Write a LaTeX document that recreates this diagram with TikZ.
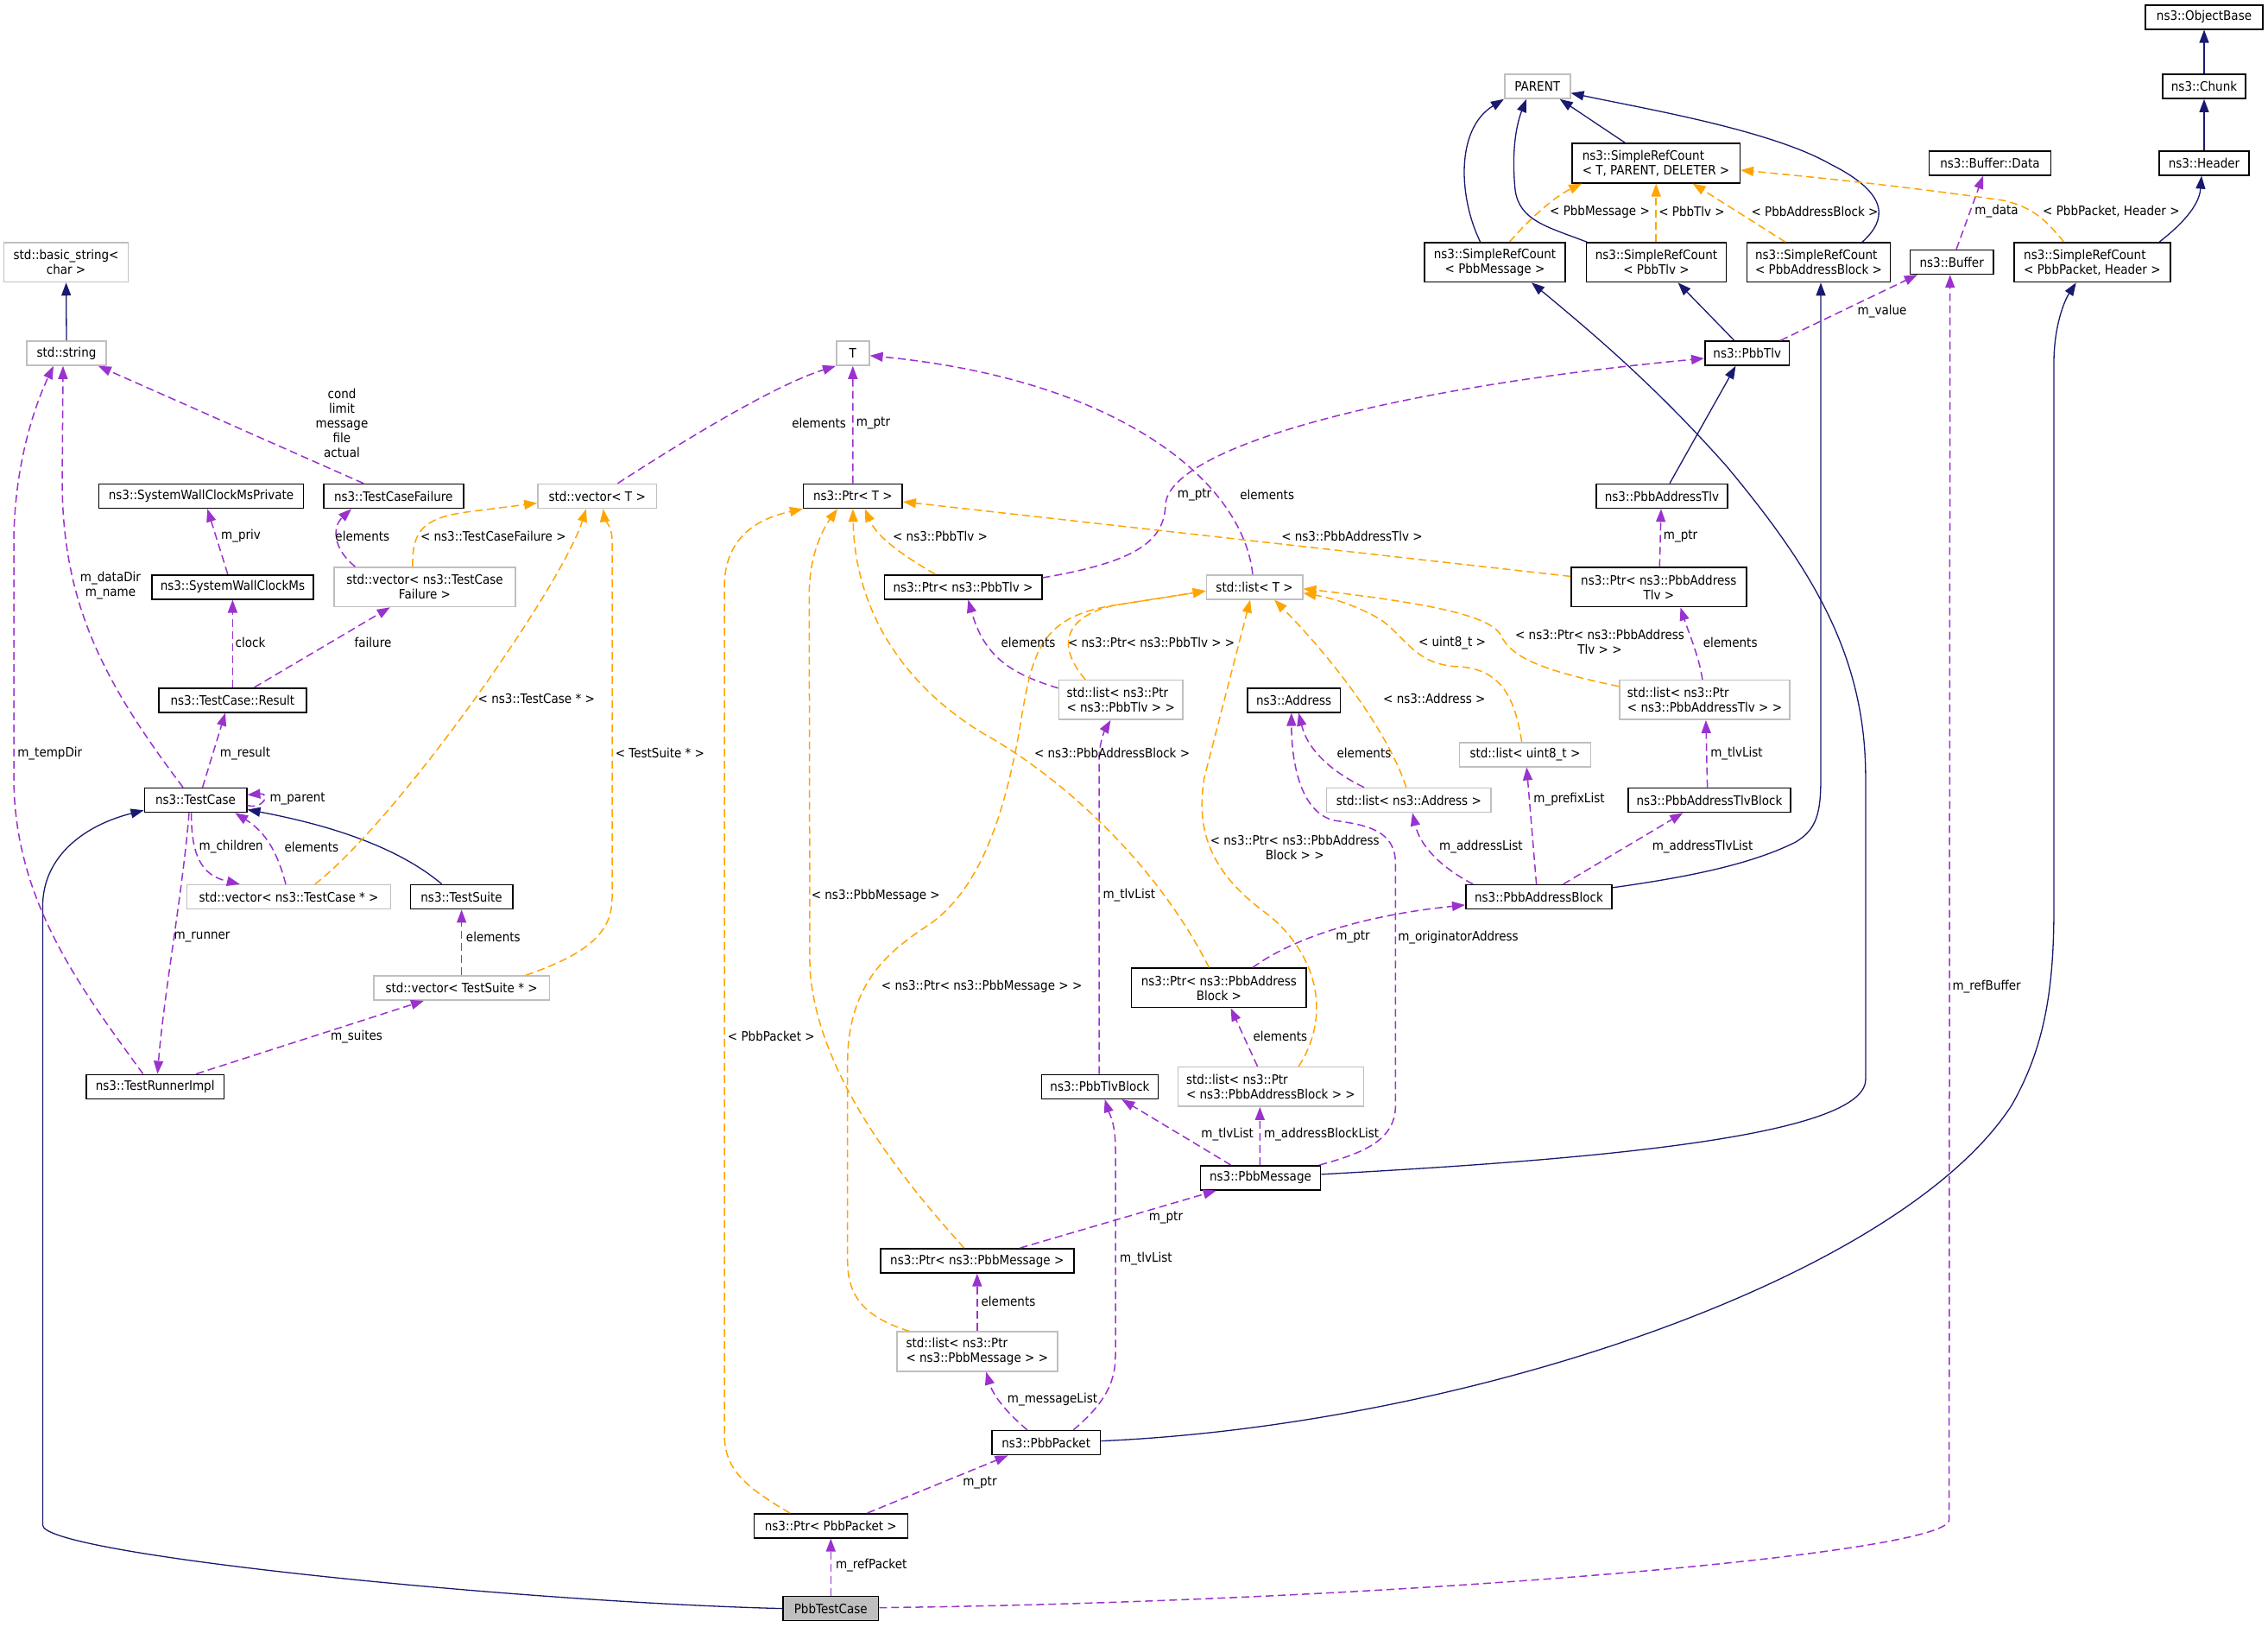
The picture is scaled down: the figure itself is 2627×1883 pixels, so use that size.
\documentclass[tikz,border=0pt]{standalone}
\usepackage{fontspec}
\setmainfont{DejaVu Sans}[FakeStretch=0.9]
\usetikzlibrary{arrows.meta,calc}
\definecolor{navy}{HTML}{191970}
\definecolor{purp}{HTML}{9A32CD}
\definecolor{orng}{HTML}{FFA500}
\definecolor{gbd}{HTML}{BFBFBF}
\begin{document}
\begin{tikzpicture}[x=1pt,y=-1pt,
  every node/.style={font=\fontsize{15}{17}\selectfont},
  cls/.style={draw=black,line width=1.6pt,fill=white,inner sep=0pt,align=center,minimum height=28pt},
  ext/.style={cls,draw=gbd},
  twoline/.style={minimum height=45.5pt},
  lbl/.style={inner sep=0pt,align=center},
  edgeInh/.style={draw=navy,line width=1.3pt,-{Triangle[length=15pt,width=11pt]}},
  edgeUse/.style={draw=purp,line width=1.5pt,dash pattern=on 9pt off 5pt,-{Triangle[length=15pt,width=11pt]}},
  edgeTpl/.style={draw=orng,line width=1.5pt,dash pattern=on 9pt off 5pt,-{Triangle[length=15pt,width=11pt]}},
]
\fill[white] (0,0) rectangle (2627,1883);
\useasboundingbox (0,0) rectangle (2627,1883);

% ---------- nodes ----------
\node[ext,twoline,minimum width=144pt] (bstr) at (76.6,303.7) {std::basic\_string<\\char >};
\node[ext,minimum width=92pt] (str) at (77,409) {std::string};
\node[cls,minimum width=237pt] (swcp) at (233,574.5) {ns3::SystemWallClockMsPrivate};
\node[cls,minimum width=162pt] (tcf) at (455.7,574.5) {ns3::TestCaseFailure};
\node[ext,minimum width=137.5pt] (vecT) at (691.7,574.5) {std::vector< T >};
\node[ext,minimum width=38pt] (T) at (987.8,409) {T};
\node[cls,minimum width=114.5pt] (ptrT) at (987.9,574.5) {ns3::Ptr< T >};
\node[cls,minimum width=136pt] (objbase) at (2553,19.7) {ns3::ObjectBase};
\node[cls,minimum width=96pt] (chunk) at (2553,100) {ns3::Chunk};
\node[cls,minimum width=103.6pt] (header) at (2553,188.8) {ns3::Header};
\node[ext,minimum width=76pt] (parent) at (1780.7,100) {PARENT};
\node[cls,twoline,minimum width=194.6pt,align=left] (srcT) at (1918,189) {ns3::SimpleRefCount\\< T, PARENT, DELETER >};
\node[cls,minimum width=141pt] (bufdata) at (2305,188.8) {ns3::Buffer::Data};
\node[cls,twoline,minimum width=163pt] (srcMsg) at (1731.5,303.7) {ns3::SimpleRefCount\\< PbbMessage >};
\node[cls,twoline,minimum width=162pt] (srcTlv) at (1918.5,303.8) {ns3::SimpleRefCount\\< PbbTlv >};
\node[cls,twoline,minimum width=166pt,align=left] (srcAB) at (2106.5,303.8) {ns3::SimpleRefCount\\< PbbAddressBlock >};
\node[cls,minimum width=96.7pt] (buffer) at (2260.7,303.4) {ns3::Buffer};
\node[cls,twoline,minimum width=181pt,align=left] (srcPkt) at (2423.4,303.8) {ns3::SimpleRefCount\\< PbbPacket, Header >};
\node[cls,minimum width=97.8pt] (pbbtlv) at (2023.7,409) {ns3::PbbTlv};
\node[cls,minimum width=151.6pt] (addrtlv) at (1925,574.5) {ns3::PbbAddressTlv};
\node[cls,minimum width=187.4pt] (swc) at (269.4,679.7) {ns3::SystemWallClockMs};
\node[ext,twoline,minimum width=210.5pt] (vecTCF) at (492,679.7) {std::vector< ns3::TestCase\\Failure >};
\node[cls,minimum width=170.6pt] (result) at (269.4,810.7) {ns3::TestCase::Result};
\node[cls,minimum width=118.4pt] (testcase) at (226.5,926.5) {ns3::TestCase};
\node[ext,minimum width=235.8pt] (vecTC) at (334.5,1038.6) {std::vector< ns3::TestCase * >};
\node[cls,minimum width=118.4pt] (suite) at (534.6,1038.6) {ns3::TestSuite};
\node[ext,minimum width=203.7pt] (vecTS) at (534.6,1144) {std::vector< TestSuite * >};
\node[cls,minimum width=159.3pt] (runner) at (179.7,1258.3) {ns3::TestRunnerImpl};
\node[cls,minimum width=182.4pt] (ptrTlv) at (1115.5,679.7) {ns3::Ptr< ns3::PbbTlv >};
\node[ext,minimum width=111.2pt] (listT) at (1453.1,679.7) {std::list< T >};
\node[cls,twoline,minimum width=203pt] (ptrAddrTlv) at (1921.3,679.9) {ns3::Ptr< ns3::PbbAddress\\Tlv >};
\node[ext,twoline,minimum width=143.6pt,align=left] (listPtrTlv) at (1298.2,810.4) {std::list< ns3::Ptr\\< ns3::PbbTlv > >};
\node[cls,minimum width=107.8pt] (address) at (1498.6,810.7) {ns3::Address};
\node[ext,twoline,minimum width=197.4pt,align=left] (listPtrAddrTlv) at (1974.5,810.4) {std::list< ns3::Ptr\\< ns3::PbbAddressTlv > >};
\node[ext,minimum width=151.9pt] (listU8) at (1766.4,873.7) {std::list< uint8\_t >};
\node[ext,minimum width=190.3pt] (listAddr) at (1631.8,926.5) {std::list< ns3::Address >};
\node[cls,minimum width=187.7pt] (addrTlvBlock) at (1979.9,926.5) {ns3::PbbAddressTlvBlock};
\node[cls,minimum width=169.5pt] (addrBlock) at (1782.5,1038.6) {ns3::PbbAddressBlock};
\node[cls,twoline,minimum width=202.6pt] (ptrAB) at (1411.9,1143.9) {ns3::Ptr< ns3::PbbAddress\\Block >};
\node[cls,minimum width=134.7pt] (tlvBlock) at (1274,1258.3) {ns3::PbbTlvBlock};
\node[ext,twoline,minimum width=215pt,align=left] (listPtrAB) at (1471.9,1258.3) {std::list< ns3::Ptr\\< ns3::PbbAddressBlock > >};
\node[cls,minimum width=139.2pt] (msg) at (1460,1363.8) {ns3::PbbMessage};
\node[cls,minimum width=224pt] (ptrMsg) at (1131.8,1459.9) {ns3::Ptr< ns3::PbbMessage >};
\node[ext,twoline,minimum width=185.8pt,align=left] (listPtrMsg) at (1131.8,1565) {std::list< ns3::Ptr\\< ns3::PbbMessage > >};
\node[cls,minimum width=125.7pt] (packet) at (1211.7,1670.6) {ns3::PbbPacket};
\node[cls,minimum width=178pt] (ptrPkt) at (962.3,1766.8) {ns3::Ptr< PbbPacket >};
\node[cls,fill=gbd,minimum width=110.6pt] (testc) at (962.3,1862.6) {PbbTestCase};

% ---------- inheritance (navy) ----------
\draw[edgeInh] (str.north) -- (bstr.south);
\draw[edgeInh] (chunk.north) -- (objbase.south);
\draw[edgeInh] (header.north) -- (chunk.south);
\draw[edgeInh] ([xshift=-35.5pt]srcT.north) -- ([xshift=26pt]parent.south);
\draw[edgeInh] ([xshift=1.5pt]srcTlv.north west) .. controls (1790,262) and (1760,255) .. (1755,220) .. controls (1750,170) and (1758,140) .. ([xshift=-12.7pt]parent.south);
\draw[edgeInh] ([xshift=50.5pt]srcAB.north) .. controls (2185,255) and (2190,225) .. (2120,190) .. controls (2050,150) and (1900,125) .. ([yshift=-7.7pt]parent.east);
\draw[edgeInh] ([xshift=-16.9pt]srcMsg.north) .. controls (1690,230) and (1685,150) .. (parent.south west);
\draw[edgeInh] ([xshift=77.6pt]srcPkt.north) .. controls (2540,250) and (2548,230) .. ([xshift=-3pt]header.south);
\draw[edgeInh] ([xshift=-15pt]pbbtlv.north) -- ([xshift=25.1pt]srcTlv.south);
\draw[edgeInh] ([xshift=9pt]addrtlv.north) -- ([xshift=-13.3pt]pbbtlv.south);
\draw[edgeInh] ([yshift=4pt]msg.east) .. controls (1800,1345) and (2160.9,1320) .. (2160.9,1250) -- (2160.9,900) .. controls (2160.9,760) and (2100,660) .. (2000,540) .. controls (1920,450) and (1850,390) .. ([xshift=42.5pt]srcMsg.south);
\draw[edgeInh] ([yshift=2pt]packet.east) .. controls (1700,1650) and (2200,1480) .. (2330,1280) .. controls (2370,1210) and (2379,1140) .. (2379,1050) -- (2379,420) .. controls (2379,380) and (2390,350) .. ([xshift=-18.7pt]srcPkt.south);
\draw[edgeInh] ([yshift=10.8pt]addrBlock.east) .. controls (1960,1015) and (2030,1000) .. (2080,975) .. controls (2105,960) and (2109,940) .. (2109,900) -- ([xshift=2.5pt]srcAB.south);
\draw[edgeInh] (testc.west) .. controls (600,1855) and (49.4,1800) .. (49.4,1766) -- (49.4,1050) .. controls (49.4,990) and (100,955) .. ([yshift=3pt]testcase.south west);
\draw[edgeInh] ([xshift=-22.8pt]suite.north) .. controls (460,980) and (380,955) .. ([yshift=-11pt]testcase.east);

% ---------- usage (purple dashed) ----------
\draw[edgeUse] ([xshift=-34.7pt]tcf.north) -- ([xshift=-10pt]str.south east);
\draw[edgeUse] ([xshift=-14.5pt]testcase.north) .. controls (120,790) and (73,700) .. (72,560) -- ([xshift=-4pt]str.south);
\draw[edgeUse] ([xshift=-14pt]runner.north) .. controls (90,1140) and (16,1040) .. (16,900) -- (16,630) .. controls (16,540) and (40,470) .. ([xshift=-15pt]str.south);
\draw[edgeUse] ([xshift=-5.6pt]swc.north) -- ([xshift=7.2pt]swcp.south);
\draw[edgeUse] ([xshift=-80.6pt]vecTCF.north) .. controls (385,635) and (385,610) .. ([xshift=-48.7pt]tcf.south);
\draw[edgeUse] ([xshift=23.8pt]vecT.north) .. controls (800,505) and (900,445) .. (T.south west);
\draw[edgeUse] (result.north) -- (swc.south);
\draw[edgeUse] ([xshift=25.2pt]result.north) -- ([xshift=-40.2pt]vecTCF.south);
\draw[edgeUse] ([xshift=8.1pt]testcase.north) -- ([xshift=-8.4pt]result.south);
\draw[edgeUse] ([yshift=-6pt]testcase.east) .. controls (305,938) and (314,918) .. ([yshift=6pt]testcase.east);
\draw[edgeUse] ([xshift=-4.8pt]testcase.south) .. controls (221,1000) and (240,1015) .. ([xshift=-56.7pt]vecTC.north);
\draw[edgeUse] ([xshift=-3.5pt]vecTC.north) .. controls (322,990) and (310,965) .. ([xshift=45.7pt]testcase.south);
\draw[edgeUse] ([xshift=-7.5pt]testcase.south) .. controls (212,1030) and (190,1150) .. ([xshift=2.7pt]runner.north);
\draw[edgeUse] (vecTS.north) -- (suite.south);
\draw[edgeUse] ([xshift=47.6pt]runner.north) -- ([xshift=-43.6pt]vecTS.south);
\draw[edgeUse] (ptrT.north) -- (T.south);
\draw[edgeUse] ([xshift=-2.2pt]listT.north) .. controls (1440,560) and (1300,440) .. ([yshift=-2.8pt]T.east);
\draw[edgeUse] ([yshift=10.7pt]ptrTlv.east) .. controls (1320,650) and (1348,625) .. (1350,585) .. controls (1352,520) and (1600,450) .. ([yshift=-6pt]pbbtlv.west);
\draw[edgeUse] ([yshift=13.6pt]listPtrTlv.west) .. controls (1170,780) and (1140,760) .. ([xshift=5.9pt]ptrTlv.south);
\draw[edgeUse] ([xshift=-51.8pt]listAddr.north) .. controls (1545,895) and (1515,870) .. ([xshift=5.6pt]address.south);
\draw[edgeUse] ([xshift=-2pt]msg.north east) .. controls (1580,1335) and (1616.4,1320) .. (1616.4,1280) -- (1616.4,1000) .. controls (1616.4,960) and (1580,955) .. (1545,950) .. controls (1505,940) and (1496,880) .. ([xshift=-2.8pt]address.south);
\draw[edgeUse] ([xshift=-1pt]tlvBlock.north) -- (1273,880) .. controls (1273,860) and (1280,845) .. ([xshift=-11.8pt]listPtrTlv.south);
\draw[edgeUse] ([xshift=-15.4pt]listPtrAB.north) -- ([xshift=13.7pt]ptrAB.south);
\draw[edgeUse] ([xshift=39pt]ptrAB.north) .. controls (1500,1085) and (1580,1060) .. ([yshift=-9.3pt]addrBlock.west);
\draw[edgeUse] ([xshift=-76.3pt]addrBlock.north) .. controls (1670,1005) and (1645,980) .. ([xshift=4.2pt]listAddr.south);
\draw[edgeUse] ([xshift=-2.9pt]addrBlock.north) -- ([xshift=1.9pt]listU8.south);
\draw[edgeUse] ([xshift=28.2pt]addrBlock.north) -- ([xshift=-30.6pt]addrTlvBlock.south);
\draw[edgeUse] ([xshift=-2.3pt]addrTlvBlock.north) -- ([xshift=1.4pt]listPtrAddrTlv.south);
\draw[edgeUse] ([xshift=-2.6pt]listPtrAddrTlv.north) .. controls (1968,760) and (1955,730) .. ([xshift=25.2pt]ptrAddrTlv.south);
\draw[edgeUse] ([xshift=1pt]ptrAddrTlv.north) -- ([xshift=-1pt]addrtlv.south);
\draw[edgeUse] ([xshift=38.7pt]pbbtlv.north) -- ([xshift=-39.9pt]buffer.south);
\draw[edgeUse] ([xshift=5.3pt]buffer.north) -- ([xshift=-8pt]bufdata.south);
\draw[edgeUse] ([yshift=1pt]testc.east) .. controls (1600,1855) and (2257.6,1800) .. (2257.6,1760) -- ([xshift=-2pt]buffer.south);
\draw[edgeUse] ([xshift=31.5pt]packet.north) .. controls (1280,1625) and (1292,1600) .. (1292,1570) -- (1292,1330) .. controls (1292,1300) and (1285,1290) .. ([xshift=5.7pt]tlvBlock.south);
\draw[edgeUse] ([xshift=-34.4pt]msg.north) -- ([xshift=25.3pt]tlvBlock.south);
\draw[edgeUse] ([xshift=-0.7pt]msg.north) -- ([xshift=-12.6pt]listPtrAB.south);
\draw[edgeUse] ([xshift=49.7pt]ptrMsg.north) -- ([xshift=-51.2pt]msg.south);
\draw[edgeUse] (listPtrMsg.north) -- (ptrMsg.south);
\draw[edgeUse] ([xshift=-21.8pt]packet.north) .. controls (1165,1635) and (1150,1615) .. ([xshift=10.4pt]listPtrMsg.south);
\draw[edgeUse] ([xshift=42.4pt]ptrPkt.north) -- ([xshift=-44.2pt]packet.south);
\draw[edgeUse] (testc.north) -- (ptrPkt.south);

% ---------- template instances (orange dashed) ----------
\draw[edgeTpl] ([xshift=-14pt]vecTCF.north) .. controls (477,615) and (490,600) .. (540,593) -- ([yshift=-8pt]vecT.west);
\draw[edgeTpl] ([xshift=30.3pt]vecTC.north) .. controls (460,950) and (650,680) .. ([xshift=-12.7pt]vecT.south);
\draw[edgeTpl] ([xshift=74.4pt]vecTS.north) .. controls (680,1105) and (709,1080) .. (709,1040) -- (709,625) .. controls (709,610) and (700,600) .. ([xshift=7pt]vecT.south);
\draw[edgeTpl] ([xshift=-32.2pt]ptrTlv.north) .. controls (1040,640) and (1015,620) .. ([xshift=13.8pt]ptrT.south);
\draw[edgeTpl] ([yshift=12.5pt]ptrAddrTlv.west) -- ([yshift=-6.5pt]ptrT.east);
\draw[edgeTpl] ([xshift=-47.4pt]ptrPkt.north) .. controls (860,1720) and (839,1700) .. (839,1660) -- (839,680) .. controls (839,620) and (880,600) .. (ptrT.south west);
\draw[edgeTpl] ([xshift=-15.1pt]ptrMsg.north) .. controls (1040,1360) and (945,1240) .. (938,1120) -- (937.3,690) .. controls (937,640) and (955,610) .. ([xshift=-17.9pt]ptrT.south);
\draw[edgeTpl] ([xshift=-11.5pt]ptrAB.north) .. controls (1340,1000) and (1230,900) .. (1140,850) .. controls (1040,790) and (990,700) .. (ptrT.south);
\draw[edgeTpl] ([xshift=-41pt]listPtrTlv.north) .. controls (1225,750) and (1230,715) .. (1290,701) -- ([yshift=-4.6pt]listT.west);
\draw[edgeTpl] ([xshift=-78.5pt]listPtrMsg.north) .. controls (1000,1525) and (981.7,1500) .. (981.7,1460) -- (981.7,1230) .. controls (982,1130) and (1040,1095) .. (1080,1068) .. controls (1130,1030) and (1160,960) .. (1180,850) .. controls (1195,760) and (1200,715) .. (1290,701) -- ([yshift=-4.6pt]listT.west);
\draw[edgeTpl] ([xshift=32.3pt]listPtrAB.north) .. controls (1540,1180) and (1530,1110) .. (1470,1060) .. controls (1400,1010) and (1385,960) .. (1395,900) -- ([xshift=-5pt]listT.south);
\draw[edgeTpl] ([xshift=-3.8pt]listU8.north) .. controls (1755,810) and (1740,775) .. (1690,772) .. controls (1640,770) and (1630,740) .. (1600,718) .. controls (1570,700) and (1540,692) .. ([yshift=-7pt]listT.east);
\draw[edgeTpl] ([yshift=15.6pt]listPtrAddrTlv.west) .. controls (1780,775) and (1750,760) .. (1738,735) .. controls (1725,712) and (1650,698) .. ([yshift=-2pt]listT.east);
\draw[edgeTpl] ([xshift=-3pt]listAddr.north) .. controls (1612,860) and (1560,780) .. ([xshift=23pt]listT.south);
\draw[edgeTpl] ([xshift=17pt]srcMsg.north) .. controls (1770,255) and (1800,228) .. ([xshift=12.3pt]srcT.south west);
\draw[edgeTpl] ([xshift=-0.3pt]srcTlv.north) -- ([xshift=0.2pt]srcT.south);
\draw[edgeTpl] ([xshift=-38.5pt]srcAB.north) -- ([xshift=42.6pt]srcT.south);
\draw[edgeTpl] ([xshift=-32.9pt]srcPkt.north) .. controls (2370,255) and (2355,240) .. (2320,232) .. controls (2200,215) and (2100,205) .. ([yshift=-8pt]srcT.east);

% ---------- edge labels ----------
\node[lbl] (l01) at (396,490) {cond\\limit\\message\\file\\actual};
\node[lbl] (l02) at (128,678.5) {m\_dataDir\\m\_name};
\node[lbl] (l03) at (279,620.7) {m\_priv};
\node[lbl] (l04) at (419.8,620.7) {elements};
\node[lbl] (l05) at (571.3,620.7) {< ns3::TestCaseFailure >};
\node[lbl] (l06) at (290,744) {clock};
\node[lbl] (l07) at (432,744) {failure};
\node[lbl] (l08) at (621.3,809.2) {< ns3::TestCase * >};
\node[lbl] (l09) at (57.8,872.3) {m\_tempDir};
\node[lbl] (l10) at (284,872.3) {m\_result};
\node[lbl] (l11) at (764.4,872.3) {< TestSuite * >};
\node[lbl] (l12) at (344.6,925.4) {m\_parent};
\node[lbl] (l13) at (267.7,980.8) {m\_children};
\node[lbl] (l14) at (360.9,980.8) {elements};
\node[lbl] (l15) at (234,1085.3) {m\_runner};
\node[lbl] (l16) at (571.3,1085.3) {elements};
\node[lbl] (l17) at (413,1200.2) {m\_suites};
\node[lbl] (l18) at (948.6,490) {elements};
\node[lbl] (l19) at (1011.4,490) {m\_ptr};
\node[lbl] (l20) at (1383.5,573.3) {m\_ptr};
\node[lbl] (l21) at (1467.7,573.3) {elements};
\node[lbl] (l22) at (1089,620.7) {< ns3::PbbTlv >};
\node[lbl] (l23) at (1566,620.7) {< ns3::PbbAddressTlv >};
\node[lbl] (l24) at (1853,245) {< PbbMessage >};
\node[lbl] (l25) at (1959.5,245) {< PbbTlv >};
\node[lbl] (l26) at (2102,245) {< PbbAddressBlock >};
\node[lbl] (l27) at (2312.5,245) {m\_data};
\node[lbl] (l28) at (2445.4,245) {< PbbPacket, Header >};
\node[lbl] (l29) at (2180,360.4) {m\_value};
\node[lbl] (l30) at (1946.5,620.7) {m\_ptr};
\node[lbl] (l31) at (1191,744.2) {elements};
\node[lbl] (l32) at (1333.6,744.2) {< ns3::Ptr< ns3::PbbTlv > >};
\node[lbl] (l33) at (1682,744.2) {< uint8\_t >};
\node[lbl] (l34) at (1853,743.7) {< ns3::Ptr< ns3::PbbAddress\\Tlv > >};
\node[lbl] (l35) at (2004.2,744.2) {elements};
\node[lbl] (l36) at (1661.3,809.2) {< ns3::Address >};
\node[lbl] (l37) at (1580,872.3) {elements};
\node[lbl] (l38) at (1288.1,872.3) {< ns3::PbbAddressBlock >};
\node[lbl] (l39) at (2011.5,872.3) {m\_tlvList};
\node[lbl] (l40) at (1499.7,981) {< ns3::Ptr< ns3::PbbAddress\\Block > >};
\node[lbl] (l41) at (1715.4,980.8) {m\_addressList};
\node[lbl] (l42) at (1817.5,925.4) {m\_prefixList};
\node[lbl] (l43) at (1972,980.8) {m\_addressTlvList};
\node[lbl] (l44) at (1014.3,1037.3) {< ns3::PbbMessage >};
\node[lbl] (l45) at (1307.8,1037) {m\_tlvList};
\node[lbl] (l46) at (1567,1085.3) {m\_ptr};
\node[lbl] (l47) at (1689,1085.3) {m\_originatorAddress};
\node[lbl] (l48) at (1137.1,1142.3) {< ns3::Ptr< ns3::PbbMessage > >};
\node[lbl] (l49) at (893.3,1200) {< PbbPacket >};
\node[lbl] (l50) at (1482.9,1200.2) {elements};
\node[lbl] (l51) at (2301.1,1142.3) {m\_refBuffer};
\node[lbl] (l52) at (1421.7,1313.8) {m\_tlvList};
\node[lbl] (l53) at (1530.6,1313.8) {m\_addressBlockList};
\node[lbl] (l54) at (1350.4,1410.3) {m\_ptr};
\node[lbl] (l55) at (1327.4,1458) {m\_tlvList};
\node[lbl] (l56) at (1168,1506.4) {elements};
\node[lbl] (l57) at (1219,1620.6) {m\_messageList};
\node[lbl] (l58) at (1134.9,1717) {m\_ptr};
\node[lbl] (l59) at (1009.2,1812.4) {m\_refPacket};
\end{tikzpicture}
\end{document}
